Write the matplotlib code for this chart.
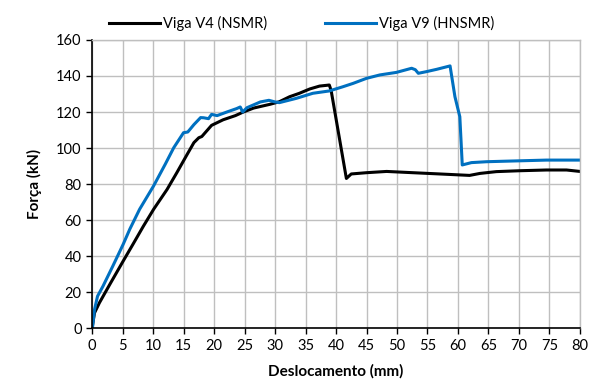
import matplotlib
matplotlib.use('Agg')
import matplotlib.pyplot as plt

# Viga V4 (NSMR) - black curve
v4_x = [0, 0.4, 1.2, 2.9, 5.1, 6.7, 8.4, 10.1, 12.3, 13.9, 15.6, 16.7, 17.5, 18.0,
        19.6, 21.5, 23.5, 24.8, 26.5, 29.2, 30.7, 32.4, 34.0, 35.7, 37.3, 38.4,
        38.9, 39.2, 41.7, 42.5, 45.0, 48.3, 52.6, 57.0, 61.9, 63.6, 66.3, 70.2,
        74.5, 77.8, 80.0]
v4_y = [0, 8.4, 14, 24.2, 37.2, 46.5, 56.5, 66, 77, 86.3, 96.5, 103, 105.7, 106.4,
        112.6, 115.7, 118, 120, 122.2, 124.3, 125.7, 128.5, 130.4, 132.8, 134.4, 134.8,
        135, 132, 83.1, 85.6, 86.3, 87, 86.3, 85.6, 84.8, 85.9, 86.9, 87.4,
        87.8, 87.8, 87]

# Viga V9 (HNSMR) - blue curve
v9_x = [0, 0.1, 0.4, 0.9, 1.8, 3.4, 5.1, 6.2, 7.8, 10.1, 12.0, 13.4, 15.0, 15.7,
        16.7, 17.8, 18.3, 19.1, 19.6, 20.5, 22.1, 23.7, 24.3, 24.7, 25.4, 27.6,
        29.0, 30.0, 30.7, 33.5, 36.2, 38.9, 41.1, 42.8, 45.0, 47.2, 49.9, 52.4,
        53.0, 53.5, 54.8, 56.5, 58.7, 59.5, 60.3, 60.7, 62.2, 64.7, 69.0, 74.5, 80.0]
v9_y = [0, 1, 10.2, 17.7, 23.3, 34.4, 46.5, 55, 66, 79, 91, 100.2, 108.5, 108.9,
        113, 116.9, 116.8, 116.3, 118.7, 118, 120, 121.9, 122.8, 120, 122.4, 125.6,
        126.5, 125.6, 125.2, 127.6, 130.4, 131.7, 134, 135.9, 138.7, 140.6, 142, 144.3,
        143.5, 141.5, 142.4, 143.7, 145.6, 128.5, 117.4, 90.6, 91.9, 92.4, 92.8, 93.3, 93.3]

x_ticks = list(range(0, 81, 5))
y_ticks = list(range(0, 161, 20))

plt.rcParams['font.family'] = ['Lato', 'DejaVu Sans']

fig = plt.figure(figsize=(5.9, 3.92), dpi=100)
ax = fig.add_axes([0.156, 0.163, 0.827, 0.735])

ax.plot(v4_x, v4_y, color='black', linewidth=2.2, label='Viga V4 (NSMR)')
ax.plot(v9_x, v9_y, color='#0070C0', linewidth=2.2, label='Viga V9 (HNSMR)')

ax.set_xlim(0, 80)
ax.set_ylim(0, 160)
ax.set_xticks(x_ticks)
ax.set_yticks(y_ticks)
ax.tick_params(labelsize=10.5, direction='out', length=4, width=1, color='black')
ax.grid(True, color='#BFBFBF', linewidth=1)
ax.set_axisbelow(True)

for side in ['top', 'right']:
    ax.spines[side].set_color('#BFBFBF')
    ax.spines[side].set_linewidth(1)
for side in ['left', 'bottom']:
    ax.spines[side].set_color('black')
    ax.spines[side].set_linewidth(1.2)

ax.set_xlabel('Deslocamento (mm)', fontsize=11, fontweight='bold', labelpad=8)
ax.set_ylabel('Força (kN)', fontsize=11, fontweight='bold', labelpad=10)

ax.legend(loc='lower center', bbox_to_anchor=(0.43, 1.0), ncol=2, frameon=False,
          fontsize=10.5, handlelength=3.5, handletextpad=0.2, columnspacing=4,
          borderaxespad=0.2)

plt.savefig('out.png', dpi=100)
